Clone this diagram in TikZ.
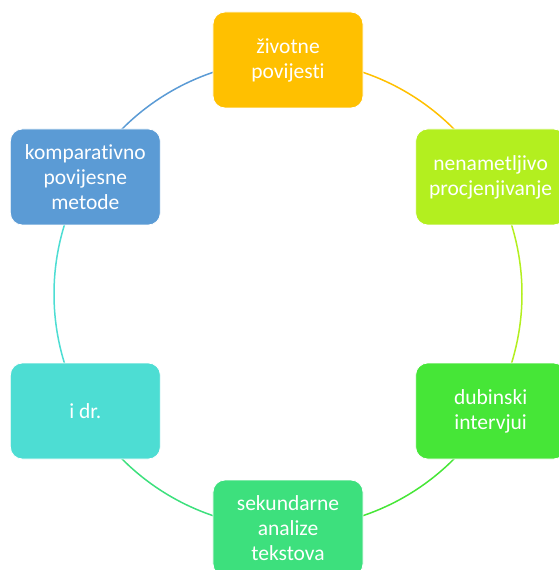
\documentclass[tikz,border=0pt]{standalone}
\usepackage{fontspec}
\setmainfont{Carlito}[Ligatures=CommonOff]
\usetikzlibrary{positioning,calc}

\definecolor{cycYellow}{HTML}{FFC000}
\definecolor{cycLime}{HTML}{B3EF1F}
\definecolor{cycGreen}{HTML}{46E637}
\definecolor{cycMint}{HTML}{3DE07D}
\definecolor{cycTeal}{HTML}{4DDDD3}
\definecolor{cycBlue}{HTML}{5B9BD5}

\begin{document}
\begin{tikzpicture}[x=1pt, y=1pt,
    stage/.style={draw=white, line width=0.8pt, rounded corners=12pt,
        minimum width=150pt, minimum height=96pt, inner sep=2pt,
        align=center, text=white, font=\fontsize{21.5}{25}\selectfont},
    ring/.style={line width=1.5pt}]
    % Cycle formulae
    \pgfmathsetmacro{\radius}{234}

    % Fixes the picture margins
    \useasboundingbox (-288, 294) rectangle (270, -276);

    % Points on the cycle
    \coordinate (P1) at (90:\radius);
    \coordinate (P2) at (30:\radius);
    \coordinate (P3) at (-30:\radius);
    \coordinate (P4) at (-90:\radius);
    \coordinate (P5) at (-150:\radius);
    \coordinate (P6) at (150:\radius);

    % Ring between the stages
    \begin{scope}[ring]
        \draw [cycYellow] (P1) arc[start angle=90, end angle=30, radius=\radius pt];
        \draw [cycLime] (P2) arc[start angle=30, end angle=-30, radius=\radius pt];
        \draw [cycGreen] (P3) arc[start angle=-30, end angle=-90, radius=\radius pt];
        \draw [cycMint] (P4) arc[start angle=-90, end angle=-150, radius=\radius pt];
        \draw [cycTeal] (P5) arc[start angle=210, end angle=150, radius=\radius pt];
        \draw [cycBlue] (P6) arc[start angle=150, end angle=90, radius=\radius pt];
    \end{scope}

    % Stages
    \node [stage, fill=cycYellow] (zivotne) at (P1) {životne\\povijesti};
    \node [stage, fill=cycLime] (nenametljivo) at (P2) {nenametljivo\\procjenjivanje};
    \node [stage, fill=cycGreen] (dubinski) at (P3) {dubinski\\intervjui};
    \node [stage, fill=cycMint] (sekundarne) at (P4) {sekundarne\\analize\\tekstova};
    \node [stage, fill=cycTeal] (idr) at (P5) {i dr.};
    \node [stage, fill=cycBlue] (komparativno) at (P6) {komparativno\\povijesne\\metode};
\end{tikzpicture}
\end{document}
